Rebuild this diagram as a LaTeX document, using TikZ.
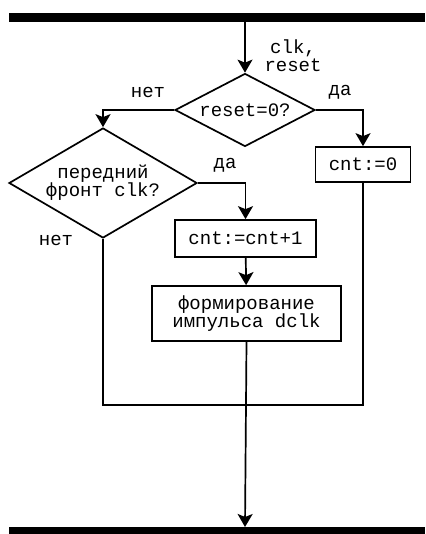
\documentclass[tikz,border=0pt]{standalone}
\usepackage{fontspec}
\setmonofont{Liberation Mono}
\usetikzlibrary{shapes.geometric,arrows.meta}

\begin{document}
\begin{tikzpicture}[x=1pt, y=-1pt,
    line width=1.7pt,
    every node/.style={font=\ttfamily\fontsize{19}{18}\selectfont, align=center},
    cond/.style={diamond, draw, inner sep=0pt},
    act/.style={rectangle, draw, inner sep=0pt},
    arr/.style={-{Stealth[length=13pt, width=15pt, inset=3pt]}}
]
    \useasboundingbox (0,0) rectangle (425,534);

    % Buses
    \fill (9,13) rectangle (425,22);
    \fill (9,527) rectangle (425,534);
    \coordinate (in) at (245,22);
    \coordinate (out) at (245,527);

    % Blocks
    \node[cond, aspect=1.92, minimum width=140pt, minimum height=73pt] (rst) at (245,110) {reset=0?};
    \node[cond, aspect=1.71, minimum width=188pt, minimum height=110pt] (edge) at (103,183) {передний\\фронт clk?};
    \node[act, minimum width=95pt, minimum height=35pt] (clr) at (363,164.5) {cnt:=0};
    \node[act, minimum width=141pt, minimum height=37pt] (inc) at (245.5,238.5) {cnt:=cnt+1};
    \node[act, minimum width=189pt, minimum height=55pt] (gen) at (246.5,313.5) {формирование\\импульса dclk};

    % Labels
    \node (sig) at (293,56) {clk,\\reset};
    \node (no1) at (148,92) {нет};
    \node (yes1) at (340,92) {да};
    \node (yes2) at (225,165) {да};
    \node (no2) at (56,240) {нет};

    % Connections
    \draw[arr] (in) -- (rst.north);
    \draw[arr] (rst.west) -| (edge.north);
    \draw[arr] (rst.east) -| (clr.north);
    \draw[arr] (edge.east) -| (inc.north);
    \draw[arr] (inc) -- (gen);

    \coordinate (join) at (245,405);
    \draw (edge.south) |- (join) -| (clr.south);
    \draw[arr] (gen.south) -- (out);
\end{tikzpicture}
\end{document}
